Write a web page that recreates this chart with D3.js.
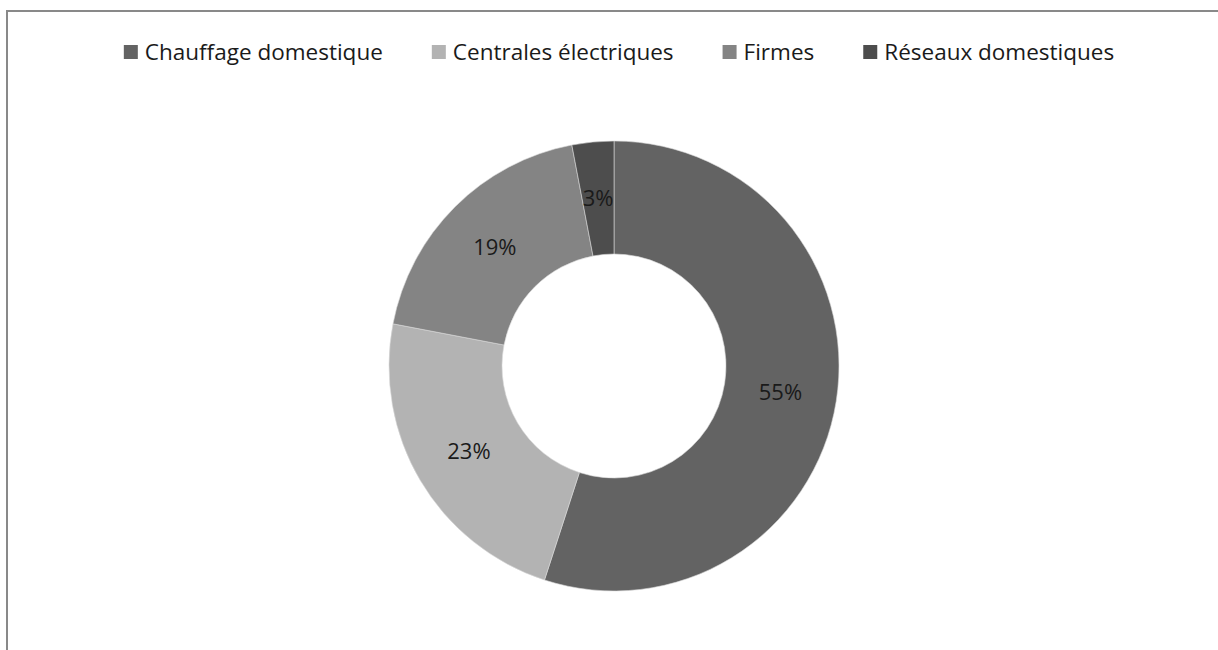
<!DOCTYPE html>
<html>
<head>
<meta charset="utf-8">
<script src="https://cdn.jsdelivr.net/npm/d3@7"></script>
<style>
  body { margin: 0; background: #fff; }
  svg { display: block; }
</style>
</head>
<body>
<div id="chart"></div>
<script>
// data
var categories = ["Chauffage domestique", "Centrales électriques", "Firmes", "Réseaux domestiques"];
var values = [55, 23, 19, 3];
var colors = ["#636363", "#b3b3b3", "#848484", "#4d4d4d"];

var width = 1218, height = 650;
var cx = 614, cy = 366, outerR = 225, innerR = 112;
var fontFam = "'Open Sans', sans-serif";

var svg = d3.select("#chart").append("svg")
    .attr("width", width)
    .attr("height", height);

// chart border (runs off the right and bottom edge)
svg.append("rect")
    .attr("x", 7).attr("y", 11)
    .attr("width", 1230).attr("height", 700)
    .attr("fill", "#fff")
    .attr("stroke", "#898989")
    .attr("stroke-width", 2);

var tableData = categories.map(function(c, i) { return {name: c, value: values[i], color: colors[i]}; });

var pie = d3.pie().sort(null).value(function(d) { return d.value; });
var arc = d3.arc().innerRadius(innerR).outerRadius(outerR);

var g = svg.append("g").attr("transform", "translate(" + cx + "," + cy + ")");

var arcs = pie(tableData);

g.selectAll("path")
    .data(arcs)
    .enter().append("path")
    .attr("d", arc)
    .attr("fill", function(d) { return d.data.color; })
    .attr("stroke", "#d9d9d9")
    .attr("stroke-width", 0.6);

var total = d3.sum(values);
g.selectAll("text.lbl")
    .data(arcs)
    .enter().append("text")
    .attr("class", "lbl")
    .attr("transform", function(d) { return "translate(" + arc.centroid(d) + ")"; })
    .attr("text-anchor", "middle")
    .attr("dy", "0.35em")
    .style("font", "22px " + fontFam)
    .style("fill", "#1a1a1a")
    .text(function(d) { return Math.round(d.data.value / total * 100) + "%"; });

// legend
var legend = svg.append("g");
var x = 0;
var items = legend.selectAll("g")
    .data(tableData)
    .enter().append("g");

items.append("rect")
    .attr("y", -14)
    .attr("width", 14).attr("height", 14)
    .attr("fill", function(d) { return d.color; });

items.append("text")
    .attr("x", 21)
    .attr("y", 1)
    .style("font", "22.5px " + fontFam)
    .style("fill", "#1a1a1a")
    .text(function(d) { return d.name; });

items.each(function() {
    var w = this.querySelector("text").getComputedTextLength();
    d3.select(this).attr("transform", "translate(" + x + ",0)");
    x += 21 + w + 49;
});
var legendW = x - 49;
legend.attr("transform", "translate(" + (619 - legendW / 2) + ",59)");
</script>
</body>
</html>
